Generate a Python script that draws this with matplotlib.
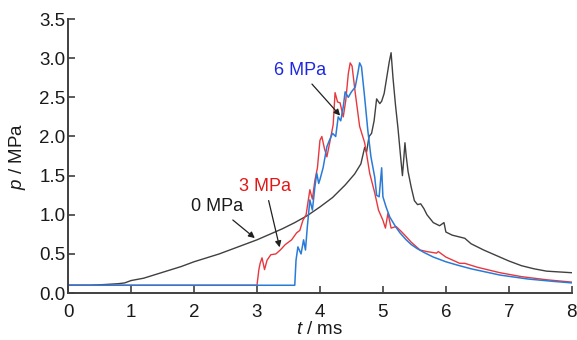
import matplotlib

matplotlib.use("Agg")
import matplotlib.pyplot as plt

plt.rcParams["font.family"] = ["Liberation Sans", "DejaVu Sans"]
plt.rcParams["mathtext.fontset"] = "custom"
plt.rcParams["mathtext.it"] = "Liberation Sans:italic"
plt.rcParams["mathtext.rm"] = "Liberation Sans"

# 0 MPa
t0 = [0, 0.35, 0.6, 0.8, 0.9, 1.0, 1.2, 1.4, 1.6, 1.8, 2.0, 2.2, 2.4, 2.6, 2.8, 3.0,
      3.2, 3.4, 3.6, 3.8, 4.0, 4.2, 4.4, 4.55, 4.65, 4.71, 4.74, 4.78, 4.82, 4.86, 4.9,
      4.95, 4.98, 5.02, 5.06, 5.1, 5.13, 5.16, 5.2, 5.24, 5.28, 5.31, 5.33, 5.35, 5.37,
      5.4, 5.45, 5.5, 5.55, 5.6, 5.65, 5.7, 5.8, 5.9, 5.97, 6.0, 6.1, 6.2, 6.3, 6.4, 6.5,
      6.6, 6.8, 7.0, 7.2, 7.4, 7.6, 7.8, 8.0]
p0 = [0.1, 0.1, 0.11, 0.12, 0.13, 0.16, 0.19, 0.24, 0.29, 0.34, 0.40, 0.45, 0.50, 0.56,
      0.62, 0.68, 0.75, 0.82, 0.90, 0.99, 1.10, 1.22, 1.38, 1.52, 1.65, 1.86, 1.8, 2.0,
      2.04, 2.2, 2.48, 2.42, 2.45, 2.55, 2.75, 2.95, 3.07, 2.75, 2.4, 2.1, 1.75, 1.5, 1.7,
      1.92, 1.75, 1.55, 1.35, 1.18, 1.13, 1.14, 1.08, 1.0, 0.9, 0.86, 0.9, 0.78, 0.74,
      0.72, 0.70, 0.63, 0.59, 0.55, 0.48, 0.41, 0.35, 0.31, 0.28, 0.27, 0.26]

# 3 MPa
t3 = [0, 3.0, 3.03, 3.05, 3.08, 3.12, 3.16, 3.22, 3.3, 3.37, 3.45, 3.55, 3.63, 3.68,
      3.73, 3.78, 3.84, 3.88, 3.92, 3.96, 4.0, 4.03, 4.07, 4.11, 4.15, 4.21, 4.24, 4.28,
      4.32, 4.37, 4.41, 4.45, 4.48, 4.51, 4.56, 4.63, 4.71, 4.74, 4.79, 4.87, 4.93, 5.0,
      5.04, 5.08, 5.13, 5.21, 5.3, 5.37, 5.45, 5.59, 5.7, 5.85, 5.88, 6.0, 6.22, 6.3,
      6.5, 6.86, 7.2, 7.6, 8.0]
p3 = [0.1, 0.1, 0.3, 0.38, 0.45, 0.3, 0.42, 0.49, 0.5, 0.55, 0.62, 0.68, 0.77, 0.8,
      0.93, 1.0, 1.32, 1.2, 1.44, 1.6, 1.95, 2.0, 1.85, 1.74, 1.9, 2.15, 2.56, 2.44,
      2.43, 2.25, 2.46, 2.8, 2.94, 2.9, 2.56, 2.13, 1.92, 1.78, 1.53, 1.28, 1.06, 0.93,
      0.83, 1.02, 0.83, 0.85, 0.78, 0.72, 0.65, 0.55, 0.53, 0.51, 0.53, 0.46, 0.38, 0.38,
      0.33, 0.26, 0.21, 0.17, 0.14]

# 6 MPa
t6 = [0, 3.6, 3.62, 3.65, 3.7, 3.74, 3.77, 3.8, 3.84, 3.88, 3.92, 3.95, 3.98, 4.0,
      4.05, 4.11, 4.15, 4.2, 4.25, 4.29, 4.33, 4.37, 4.4, 4.45, 4.5, 4.56, 4.6, 4.63,
      4.66, 4.71, 4.76, 4.81, 4.87, 4.9, 4.94, 4.98, 5.0, 5.05, 5.11, 5.2, 5.27, 5.37,
      5.45, 5.54, 5.65, 5.8, 6.0, 6.17, 6.4, 6.86, 7.3, 7.7, 8.0]
p6 = [0.1, 0.1, 0.42, 0.59, 0.5, 0.68, 0.55, 0.85, 1.19, 1.06, 1.36, 1.53, 1.4, 1.45,
      1.6, 1.87, 1.95, 2.04, 2.0, 2.25, 2.2, 2.38, 2.57, 2.5, 2.57, 2.63, 2.8, 2.94,
      2.89, 2.5, 2.08, 1.74, 1.48, 1.25, 1.23, 1.6, 1.23, 1.1, 0.97, 0.85, 0.77, 0.68,
      0.62, 0.57, 0.52, 0.46, 0.4, 0.36, 0.31, 0.23, 0.18, 0.15, 0.13]

x_ticks = [0, 1, 2, 3, 4, 5, 6, 7, 8]
y_ticks = [0.0, 0.5, 1.0, 1.5, 2.0, 2.5, 3.0, 3.5]

AXIS_COLOR = "#404040"
BLACK = "#404040"
RED = "#e8383d"
BLUE = "#2a7bd8"

fig = plt.figure(figsize=(5.77, 3.4), dpi=100)
ax = fig.add_axes([0.118, 0.138, 0.873, 0.806])

ax.plot(t0, p0, color=BLACK, linewidth=1.0)
ax.plot(t3, p3, color=RED, linewidth=1.0)
ax.plot(t6, p6, color=BLUE, linewidth=1.1)

ax.set_xlim(0, 8)
ax.set_ylim(0, 3.5)
ax.set_xticks(x_ticks)
ax.set_yticks(y_ticks)
ax.set_xticklabels([str(v) for v in x_ticks])
ax.set_yticklabels([f"{v:.1f}" for v in y_ticks])
ax.tick_params(direction="in", length=5, width=1.2, colors=AXIS_COLOR,
               labelcolor="#1a1a1a", labelsize=13.5)
ax.tick_params(axis="x", pad=8)
ax.tick_params(axis="y", pad=2)
for side in ("top", "right"):
    ax.spines[side].set_visible(False)
for side in ("left", "bottom"):
    ax.spines[side].set_color(AXIS_COLOR)
    ax.spines[side].set_linewidth(1.4)

ax.set_xlabel(r"$\it{t}$ / ms", fontsize=13.5, color="#1a1a1a", labelpad=0)
ax.set_ylabel(r"$\it{p}$ / MPa", fontsize=13.5, color="#1a1a1a", labelpad=8)

arrow = dict(arrowstyle="-|>", color="#202020", lw=0.9, mutation_scale=9)
ax.annotate("0 MPa", xy=(3.0, 0.68), xytext=(1.95, 1.1), fontsize=13,
            color="#1a1a1a", va="center", arrowprops=arrow)
ax.annotate("3 MPa", xy=(3.37, 0.55), xytext=(2.72, 1.36), fontsize=13,
            color="#e01818", va="center", arrowprops=arrow)
ax.annotate("6 MPa", xy=(4.35, 2.24), xytext=(3.27, 2.84), fontsize=13,
            color="#1c28e0", va="center", arrowprops=arrow)

fig.savefig("out.png", dpi=100)
